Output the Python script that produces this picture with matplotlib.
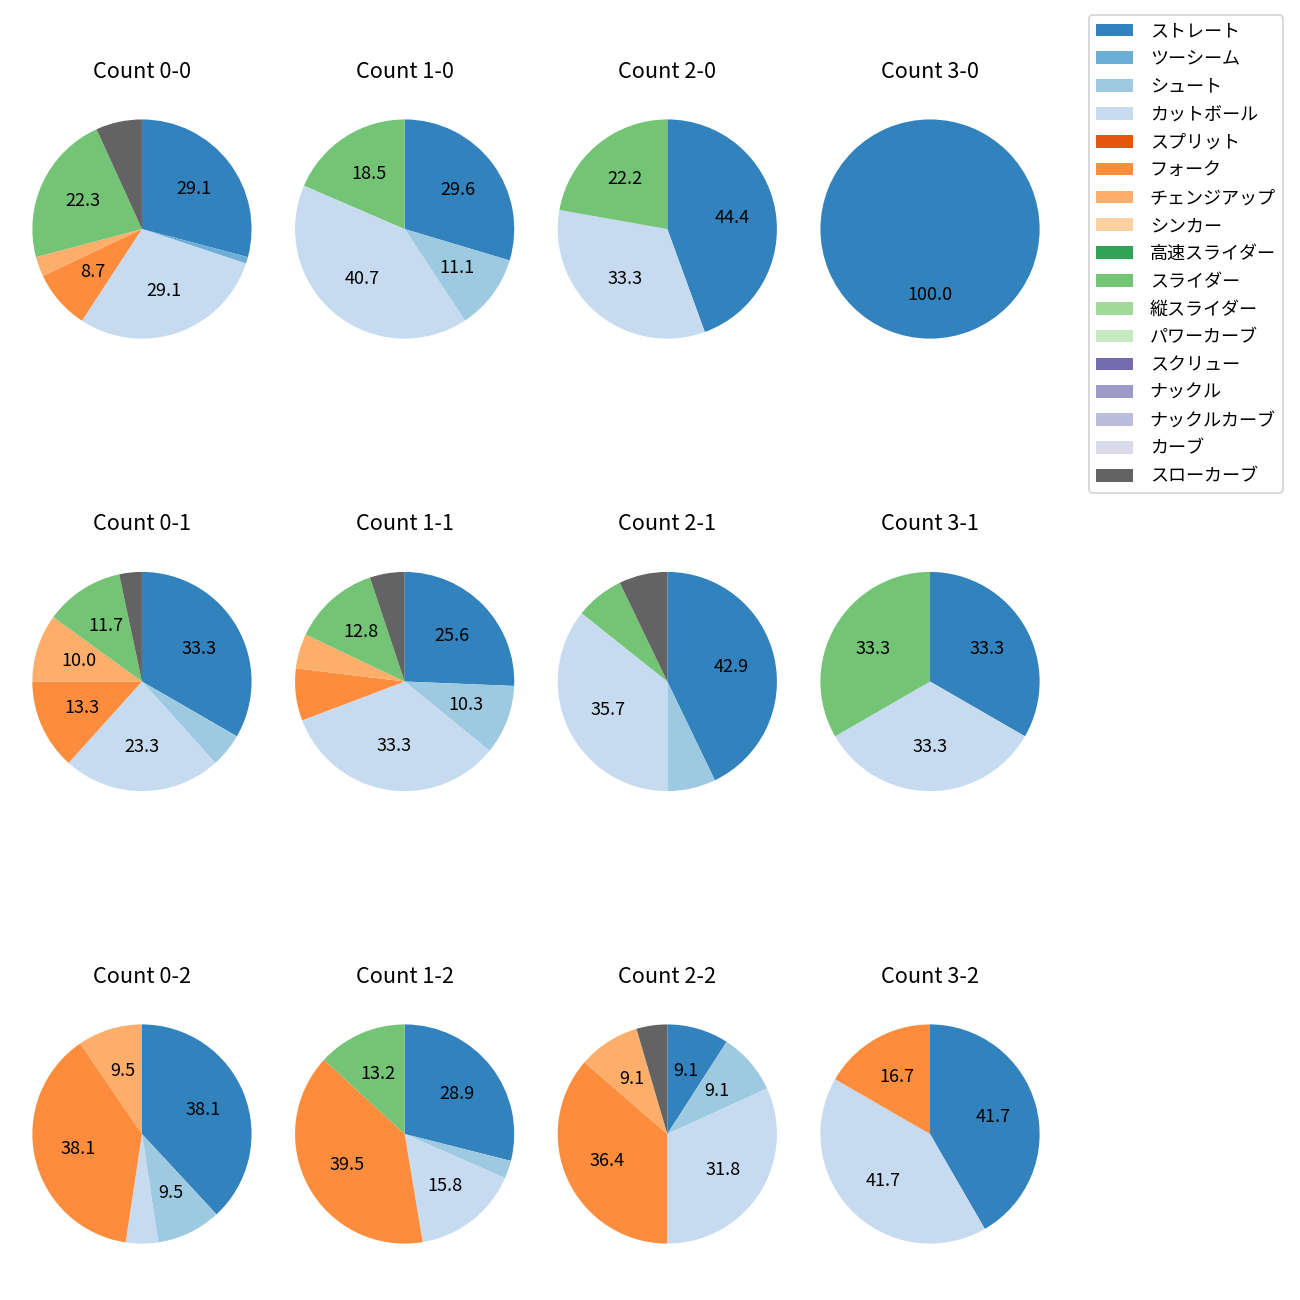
import numpy as np
import matplotlib
matplotlib.use('Agg')
import matplotlib.pyplot as plt
from matplotlib.patches import Patch

plt.rcParams['font.family'] = ['Noto Sans CJK JP', 'DejaVu Sans']

# ─── data ─────────────────────────────────────────────────────────────────────
PITCHES = ['ストレート', 'ツーシーム', 'シュート', 'カットボール', 'スプリット',
           'フォーク', 'チェンジアップ', 'シンカー', '高速スライダー', 'スライダー',
           '縦スライダー', 'パワーカーブ', 'スクリュー', 'ナックル', 'ナックルカーブ',
           'カーブ', 'スローカーブ']

BALLS   = [0, 1, 2, 3]
STRIKES = [0, 1, 2]

# pitch counts in PITCHES order
count_0_0 = [30, 1, 0, 30, 0, 9, 3, 0, 0, 23, 0, 0, 0, 0, 0, 0, 7]
count_1_0 = [8, 0, 3, 11, 0, 0, 0, 0, 0, 5, 0, 0, 0, 0, 0, 0, 0]
count_2_0 = [4, 0, 0, 3, 0, 0, 0, 0, 0, 2, 0, 0, 0, 0, 0, 0, 0]
count_3_0 = [1, 0, 0, 0, 0, 0, 0, 0, 0, 0, 0, 0, 0, 0, 0, 0, 0]
count_0_1 = [20, 0, 3, 14, 0, 8, 6, 0, 0, 7, 0, 0, 0, 0, 0, 0, 2]
count_1_1 = [10, 0, 4, 13, 0, 3, 2, 0, 0, 5, 0, 0, 0, 0, 0, 0, 2]
count_2_1 = [6, 0, 1, 5, 0, 0, 0, 0, 0, 1, 0, 0, 0, 0, 0, 0, 1]
count_3_1 = [1, 0, 0, 1, 0, 0, 0, 0, 0, 1, 0, 0, 0, 0, 0, 0, 0]
count_0_2 = [8, 0, 2, 1, 0, 8, 2, 0, 0, 0, 0, 0, 0, 0, 0, 0, 0]
count_1_2 = [11, 0, 1, 6, 0, 15, 0, 0, 0, 5, 0, 0, 0, 0, 0, 0, 0]
count_2_2 = [2, 0, 2, 7, 0, 8, 2, 0, 0, 0, 0, 0, 0, 0, 0, 0, 1]
count_3_2 = [5, 0, 0, 5, 0, 2, 0, 0, 0, 0, 0, 0, 0, 0, 0, 0, 0]

ROWS = [
    [count_0_0, count_1_0, count_2_0, count_3_0],
    [count_0_1, count_1_1, count_2_1, count_3_1],
    [count_0_2, count_1_2, count_2_2, count_3_2],
]

COLORS = list(plt.get_cmap('tab20c').colors[:16]) + ['#636363']


def pct_label(p):
    return f'{p:.1f}' if p >= 8 else ''


# ─── plot ─────────────────────────────────────────────────────────────────────
fig, axes = plt.subplots(3, 4, figsize=(10, 10), dpi=130)
fig.subplots_adjust(left=0.0038, right=0.8208, bottom=0.0223, top=0.9292,
                    wspace=-0.0414, hspace=0.6515)

for r, s in enumerate(STRIKES):
    for c, b in enumerate(BALLS):
        ax = axes[r, c]
        vals = np.array(ROWS[r][c], dtype=float)
        keep = vals > 0
        ax.pie(vals[keep], colors=[COLORS[i] for i in np.where(keep)[0]],
               startangle=90, counterclock=False, autopct=pct_label)
        ax.set_title(f'Count {b}-{s}', pad=8)

handles = [Patch(facecolor=col, label=name) for col, name in zip(COLORS, PITCHES)]
fig.legend(handles=handles, loc='upper right',
           bbox_to_anchor=(0.9869, 0.9885), borderaxespad=0,
           labelspacing=0.545, handletextpad=0.95)

fig.savefig('out.png', dpi=130)
